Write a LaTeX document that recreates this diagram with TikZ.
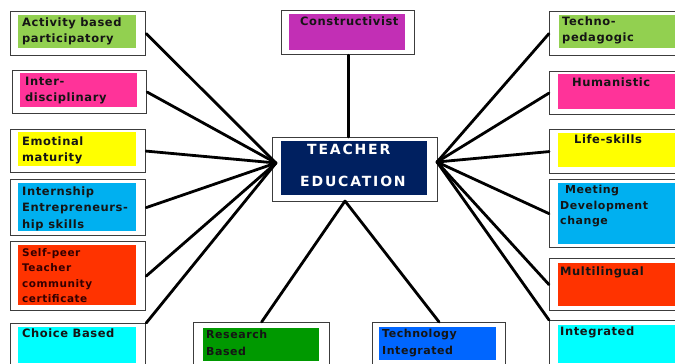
\documentclass[tikz,border=0pt]{standalone}
\usepackage{fontspec}
\setmainfont{DejaVu Sans}
\newfontfamily\boxfont{DejaVu Sans}[LetterSpace=5]
\newfontfamily\hubfont{DejaVu Sans}[LetterSpace=13]

\definecolor{framegray}{HTML}{3C3C3C}
\definecolor{labelink}{HTML}{151515}
\definecolor{leafgreen}{HTML}{92D050}
\definecolor{hotpink}{HTML}{FF3399}
\definecolor{brightyellow}{HTML}{FFFF00}
\definecolor{skyblue}{HTML}{00B0F0}
\definecolor{redorange}{HTML}{FF3300}
\definecolor{aqua}{HTML}{00FFFF}
\definecolor{orchid}{HTML}{C22FB5}
\definecolor{grassgreen}{HTML}{009900}
\definecolor{royalblue}{HTML}{0066FF}
\definecolor{navy}{HTML}{002060}

\tikzset{
  frame/.style={rectangle, draw=framegray, line width=1.2pt, fill=white,
                inner sep=0pt, anchor=north west},
  panel/.style={rectangle, fill=#1, inner sep=0pt, anchor=north west},
  lbl/.style={inner sep=0pt, anchor=north west, align=left, text=labelink,
              font=\boxfont\bfseries\fontsize{11.5}{16}\selectfont},
  hubtext/.style={inner sep=0pt, anchor=north west, text=white,
              font=\hubfont\bfseries\fontsize{14}{16}\selectfont},
  conn/.style={line width=2.8pt, draw=black, line cap=round},
}

\begin{document}
\begin{tikzpicture}[x=1pt, y=-1pt]
\useasboundingbox (0,0) rectangle (675,364);
\clip (0,0) rectangle (675,364);

% ---------- central box ----------
\node[frame, minimum width=165pt, minimum height=64pt] (centre) at (272,137) {};
\node[panel=navy, minimum width=146pt, minimum height=54pt] (centrein) at (281,141) {};
\node[hubtext] (teacher) at (307,144) {TEACHER};
\node[hubtext] (education) at (300,176) {EDUCATION};
\coordinate (hubL) at (276,163);
\coordinate (hubR) at (437,162);
\coordinate (hubB) at (345,201);

% ---------- left column ----------
\node[frame, minimum width=135pt, minimum height=44pt] (act) at (10,11) {};
\node[panel=leafgreen, minimum width=118pt, minimum height=33pt] at (18,15) {};
\node[lbl] (acttxt) at (22,17.5) {Activity based\\participatory};

\node[frame, minimum width=134pt, minimum height=43pt] (inter) at (12,70) {};
\node[panel=hotpink, minimum width=117pt, minimum height=34pt] at (20,73) {};
\node[lbl] (intertxt) at (25,77) {Inter-\\disciplinary};

\node[frame, minimum width=135pt, minimum height=43pt] (emo) at (10,129) {};
\node[panel=brightyellow, minimum width=118pt, minimum height=34pt] at (18,132) {};
\node[lbl] (emotxt) at (22,137) {Emotinal\\maturity};

\node[frame, minimum width=135pt, minimum height=56pt] (intern) at (10,179) {};
\node[panel=skyblue, minimum width=118pt, minimum height=48pt] at (18,183) {};
\node[lbl, font=\boxfont\bfseries\fontsize{11.5}{16.5}\selectfont] (interntxt) at (22,186.5)
  {Internship\\Entrepreneurs-\\hip skills};

\node[frame, minimum width=135pt, minimum height=69pt] (self) at (10,241) {};
\node[panel=redorange, minimum width=118pt, minimum height=60pt] at (18,245) {};
\node[lbl, text=black!80!red, font=\boxfont\bfseries\fontsize{10.5}{15.5}\selectfont] (selftxt) at (22,248)
  {Self-peer\\Teacher\\community\\certificate};

\node[frame, minimum width=135pt, minimum height=60pt] (choice) at (10,323) {};
\node[panel=aqua, minimum width=118pt, minimum height=36pt] at (18,327) {};
\node[lbl] (choicetxt) at (22,329) {Choice Based};

% ---------- top ----------
\node[frame, minimum width=133pt, minimum height=44pt] (cons) at (281,10) {};
\node[panel=orchid, minimum width=116pt, minimum height=36pt] at (289,14) {};
\node[lbl] (constxt) at (300,17) {Constructivist};

% ---------- right column ----------
\node[frame, minimum width=140pt, minimum height=44pt] (techno) at (549,11) {};
\node[panel=leafgreen, minimum width=130pt, minimum height=33pt] at (559,15) {};
\node[lbl] (technotxt) at (562,17) {Techno-\\pedagogic};

\node[frame, minimum width=140pt, minimum height=43pt] (hum) at (549,71) {};
\node[panel=hotpink, minimum width=130pt, minimum height=35pt] at (558,74) {};
\node[lbl] (humtxt) at (572,78) {Humanistic};

\node[frame, minimum width=140pt, minimum height=44pt] (life) at (549,129) {};
\node[panel=brightyellow, minimum width=130pt, minimum height=34pt] at (558,133) {};
\node[lbl] (lifetxt) at (574,135) {Life-skills};

\node[frame, minimum width=140pt, minimum height=68pt] (meet) at (549,179) {};
\node[panel=skyblue, minimum width=130pt, minimum height=61pt] at (558,183) {};
\node[lbl, font=\boxfont\bfseries\fontsize{11}{15.5}\selectfont] (meettxt) at (560,185)
  {\hspace{5pt}Meeting\\Development\\change};

\node[frame, minimum width=140pt, minimum height=52pt] (multi) at (549,258) {};
\node[panel=redorange, minimum width=130pt, minimum height=43pt] at (558,263) {};
\node[lbl] (multitxt) at (560,267) {Multilingual};

\node[frame, minimum width=140pt, minimum height=60pt] (integ) at (549,320) {};
\node[panel=aqua, minimum width=130pt, minimum height=38pt] at (558,325) {};
\node[lbl] (integtxt) at (560,327) {Integrated};

% ---------- bottom ----------
\node[frame, minimum width=136pt, minimum height=60pt] (res) at (193,322) {};
\node[panel=grassgreen, minimum width=116pt, minimum height=33pt] at (203,328) {};
\node[lbl, font=\boxfont\bfseries\fontsize{11}{17}\selectfont] (restxt) at (206,330) {Research\\Based};

\node[frame, minimum width=133pt, minimum height=60pt] (tech) at (372,322) {};
\node[panel=royalblue, minimum width=117pt, minimum height=33pt] at (379,327) {};
\node[lbl, font=\boxfont\bfseries\fontsize{11}{17}\selectfont] (techtxt) at (382,329) {Technology\\Integrated};

% ---------- connectors ----------
\draw[conn] (cons.south) -- (cons.south |- centre.north);
\foreach \n in {act, inter, emo, intern, self}
  \draw[conn] (\n.east) -- (hubL);
\draw[conn] (choice.north east) -- (hubL);
\foreach \n in {techno, hum, life, meet, multi}
  \draw[conn] (\n.west) -- (hubR);
\draw[conn] (integ.north west) -- (hubR);
\draw[conn] (res.north) -- (hubB);
\draw[conn] (tech.north) -- (hubB);
\end{tikzpicture}
\end{document}
